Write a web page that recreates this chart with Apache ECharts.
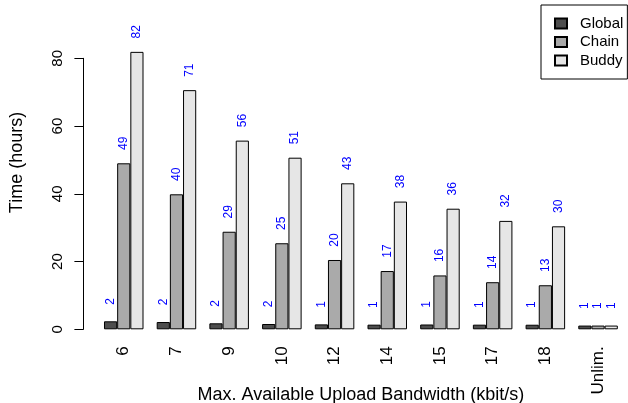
<!DOCTYPE html>
<html>
<head>
<meta charset="utf-8">
<script src="https://cdn.jsdelivr.net/npm/echarts@6/dist/echarts.min.js"></script>
<style>
html,body{margin:0;padding:0;background:#fff;}
#chart{width:628px;height:403px;}
</style>
</head>
<body>
<div id="chart"></div>
<script>
var categories = ['6', '7', '9', '10', '12', '14', '15', '17', '18', 'Unlim.'];
var globalValues = [2.36, 2.15, 1.77, 1.56, 1.45, 1.37, 1.42, 1.37, 1.35, 1.1];
var chainValues = [49.0, 39.85, 28.8, 25.4, 20.46, 17.2, 15.9, 13.9, 13.0, 1.1];
var buddyValues = [81.9, 70.6, 55.7, 50.66, 43.1, 37.7, 35.6, 32.0, 30.4, 1.1];
var yTicks = [0, 20, 40, 60, 80];

var chart = echarts.init(document.getElementById('chart'), null, {renderer: 'canvas'});

function makeSeries(name, data, color) {
  return {
    name: name,
    type: 'bar',
    data: data,
    clip: false,
    barGap: '0%',
    barCategoryGap: '25%',
    itemStyle: {color: color, borderColor: '#000', borderWidth: 1},
    emphasis: {disabled: true},
    label: {
      show: true,
      position: 'top',
      distance: 20,
      rotate: 90,
      align: 'center',
      verticalAlign: 'middle',
      color: '#0000ff',
      fontSize: 12,
      fontFamily: 'Liberation Sans, Arial, sans-serif',
      formatter: function (p) { return String(Math.round(p.value)); }
    }
  };
}

chart.setOption({
  animation: false,
  backgroundColor: '#fff',
  textStyle: {fontFamily: 'Liberation Sans, Arial, sans-serif', color: '#000'},
  grid: {left: 97.4, right: 3.6, top: 58.3, bottom: 73.7, containLabel: false, outerBoundsMode: 'none'},
  legend: {
    orient: 'vertical',
    left: 541,
    top: 5,
    icon: 'rect',
    itemWidth: 12,
    itemHeight: 10,
    itemGap: 3.5,
    padding: [11, 4, 11, 13],
    borderColor: '#000',
    borderWidth: 1,
    backgroundColor: '#fff',
    textStyle: {fontSize: 15, color: '#000', padding: [0, 0, 0, 8]},
    data: ['Global', 'Chain', 'Buddy']
  },
  xAxis: {
    type: 'category',
    data: categories,
    axisLine: {show: false},
    axisTick: {show: false},
    axisLabel: {rotate: 90, fontSize: 17, color: '#000', margin: 17, interval: 0},
    name: 'Max. Available Upload Bandwidth (kbit/s)',
    nameLocation: 'middle',
    nameGap: 57,
    nameMoveOverlap: false,
    nameTextStyle: {fontSize: 18, color: '#000'}
  },
  yAxis: {
    type: 'value',
    min: yTicks[0],
    max: yTicks[yTicks.length - 1],
    interval: 20,
    offset: 14,
    splitLine: {show: false},
    axisLine: {show: true, lineStyle: {color: '#000', width: 1}},
    axisTick: {show: true, length: 9, lineStyle: {color: '#000'}},
    axisLabel: {rotate: 90, fontSize: 15, color: '#000', margin: 18}
  },
  graphic: [{
    type: 'text',
    x: 17,
    y: 162.5,
    rotation: Math.PI / 2,
    style: {
      text: 'Time (hours)',
      fontSize: 18,
      fontFamily: 'Liberation Sans, Arial, sans-serif',
      fill: '#000',
      textAlign: 'center',
      textVerticalAlign: 'middle'
    }
  }],
  series: [
    makeSeries('Global', globalValues, '#4d4d4d'),
    makeSeries('Chain', chainValues, '#aaaaaa'),
    makeSeries('Buddy', buddyValues, '#e6e6e6')
  ]
});
</script>
</body>
</html>
